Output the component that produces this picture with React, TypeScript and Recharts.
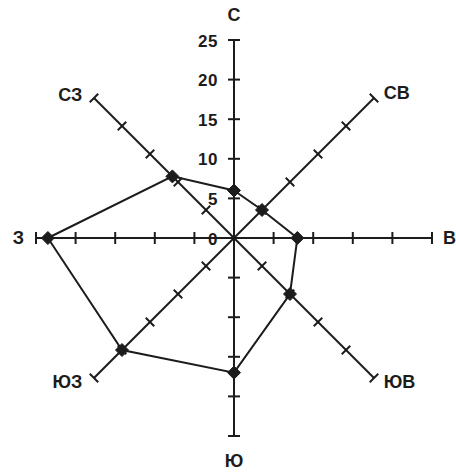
import { RadarChart, Radar, PolarAngleAxis, PolarRadiusAxis } from 'recharts';

// Wind directions, clockwise from north
const directions = ['С', 'СВ', 'В', 'ЮВ', 'Ю', 'ЮЗ', 'З', 'СЗ'];
// Repeatability per direction, %
const frequency = [6, 5, 8, 10, 17, 20, 23.5, 11];
// Polar angle of each direction axis (90 = up)
const axisAngles = [90, 45, 0, -45, -90, -135, 180, 135];
const radiusDomain = [0, 25];

const data = directions.map((dir, i) => ({ dir, value: frequency[i] }));

const INK = '#1c1c1c';
const FONT = '"Liberation Sans", Arial, sans-serif';

// label offsets from the angle-axis tick point, per direction
const labelPlacement: Record<string, { anchor: 'start' | 'middle' | 'end'; dx: number; dy: number }> = {
  'С': { anchor: 'middle', dx: 0, dy: -17 },
  'СВ': { anchor: 'start', dx: 4, dy: 1 },
  'В': { anchor: 'start', dx: 3, dy: 0 },
  'ЮВ': { anchor: 'start', dx: 4, dy: -2 },
  'Ю': { anchor: 'middle', dx: 0, dy: 17 },
  'ЮЗ': { anchor: 'end', dx: -6, dy: -2 },
  'З': { anchor: 'end', dx: -4, dy: 0 },
  'СЗ': { anchor: 'end', dx: -6, dy: 3 },
};

const DirectionTick = (props: any) => {
  const { x, y, payload } = props;
  const p = labelPlacement[payload.value] ?? { anchor: 'middle', dx: 0, dy: 0 };
  return (
    <text
      x={x + p.dx}
      y={y + p.dy}
      textAnchor={p.anchor}
      dominantBaseline="central"
      fontFamily={FONT}
      fontWeight="bold"
      fontSize={18}
      fill={INK}
    >
      {payload.value}
    </text>
  );
};

// crossing tick marks along each axis, numbers only on the north one
const makeRadiusTick = (angle: number, withLabels: boolean) => (props: any) => {
  const { x, y, payload } = props;
  const rad = (angle * Math.PI) / 180;
  const sx = Math.sin(rad) * 6;
  const sy = Math.cos(rad) * 6;
  return (
    <g>
      {payload.value !== 0 && (
        <line x1={x - sx} y1={y - sy} x2={x + sx} y2={y + sy} stroke={INK} strokeWidth={2} />
      )}
      {withLabels && (
        <text
          x={x - 16}
          y={y + 1}
          textAnchor="end"
          dominantBaseline="central"
          fontFamily={FONT}
          fontWeight="bold"
          fontSize={17}
          letterSpacing={0.5}
          fill={INK}
        >
          {payload.value}
        </text>
      )}
    </g>
  );
};

const Diamond = (props: any) => {
  const { cx, cy } = props;
  const r = 6.5;
  return (
    <path
      d={`M${cx},${cy - r} L${cx + r},${cy} L${cx},${cy + r} L${cx - r},${cy} Z`}
      fill={INK}
      stroke={INK}
      strokeWidth={1}
    />
  );
};

const axisId = (i: number) => (i === 0 ? 0 : `axis-${i}`);

export default function App() {
  return (
    <div style={{ position: 'absolute', left: 0, top: 0, background: '#fff' }}>
      <RadarChart
        width={456}
        height={474}
        data={data}
        cx={234}
        cy={238}
        outerRadius={198}
        margin={{ top: 0, right: 0, bottom: 0, left: 0 }}
      >
        <PolarAngleAxis dataKey="dir" axisLine={false} tickLine={false} tick={DirectionTick} />
        {axisAngles.map((angle, i) => (
          <PolarRadiusAxis
            key={directions[i]}
            radiusAxisId={axisId(i)}
            angle={angle}
            type="number"
            domain={radiusDomain}
            tickCount={6}
            axisLine={{ stroke: INK, strokeWidth: 2 }}
            tick={makeRadiusTick(angle, i === 0)}
          />
        ))}
        {/* invisible series so every extra radius axis gets registered */}
        {axisAngles.slice(1).map((_, k) => (
          <Radar
            key={`ghost-${k}`}
            dataKey="value"
            radiusAxisId={axisId(k + 1)}
            stroke="none"
            fill="none"
            fillOpacity={0}
            dot={false}
            legendType="none"
            isAnimationActive={false}
          />
        ))}
        <Radar
          dataKey="value"
          radiusAxisId={0}
          stroke={INK}
          strokeWidth={2}
          fill="none"
          fillOpacity={0}
          dot={Diamond}
          isAnimationActive={false}
        />
      </RadarChart>
    </div>
  );
}
